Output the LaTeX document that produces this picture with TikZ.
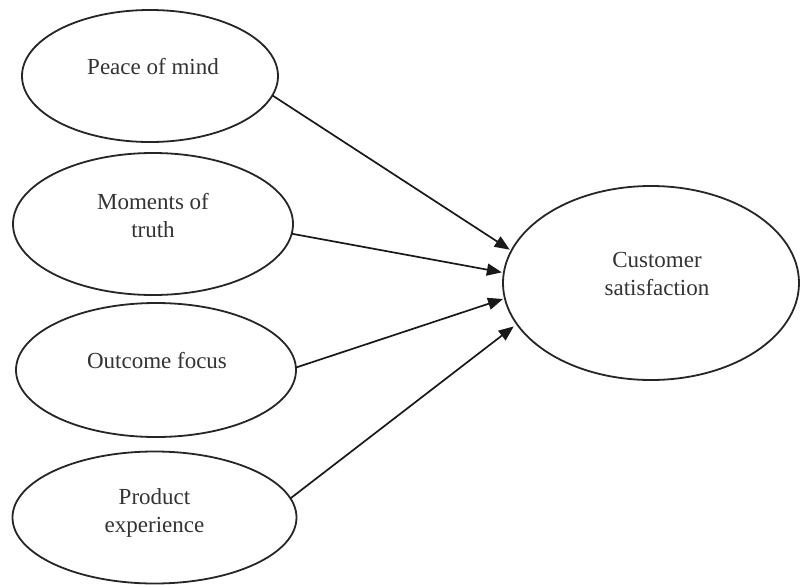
\documentclass[tikz,border=0pt]{standalone}
\usepackage{fontspec}
\setmainfont{Liberation Serif}
\usetikzlibrary{shapes.geometric,arrows.meta}
\begin{document}
\begin{tikzpicture}[x=0.5pt,y=-0.5pt,
  oval/.style={ellipse,draw=black!85,line width=0.9pt,inner sep=0pt,outer sep=0pt},
  txt/.style={align=center,font=\fontsize{11.5}{14}\selectfont,text=black!80},
  link/.style={draw=black!90,line width=0.85pt,-{Triangle[length=7.5pt,width=6pt]}}]
\useasboundingbox[fill=white] (0,0) rectangle (800,585);
\node[oval,minimum width=128pt,minimum height=66pt,
  label={[txt,xshift=1.5pt,yshift=4.5pt]center:Peace of mind}] (p) at (150,76) {};
\node[oval,minimum width=140pt,minimum height=71pt,
  label={[txt,yshift=4pt]center:Moments of\\truth}] (m) at (153,224) {};
\node[oval,minimum width=140pt,minimum height=67pt,
  label={[txt,xshift=0.5pt,yshift=4.5pt]center:Outcome focus}] (o) at (156,370) {};
\node[oval,minimum width=142pt,minimum height=66pt,
  label={[txt,yshift=2.5pt]center:Product\\experience}] (pe) at (154.5,517.5) {};
\node[oval,minimum width=148pt,minimum height=97pt,
  label={[txt,xshift=3pt,yshift=4.5pt]center:Customer\\satisfaction}] (cs) at (651,283) {};
\draw[link,shorten >=1pt] (p.-9.5) -- (cs.167.4);
\draw[link,shorten >=1pt] (m.-4.5) -- (cs.176);
\draw[link,shorten >=1pt] (o.1.6) -- (cs.186.7);
\draw[link,shorten >=2pt] (pe.8) -- (cs.197.3);
\end{tikzpicture}
\end{document}
